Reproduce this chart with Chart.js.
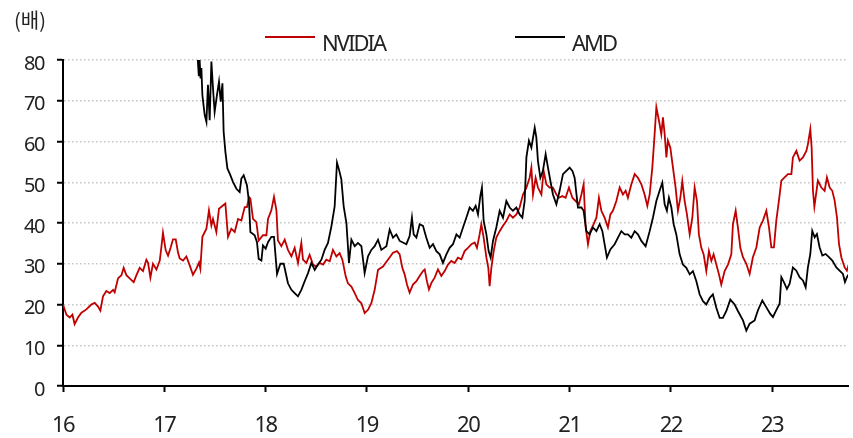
<!DOCTYPE html>
<html>
<head>
<meta charset="utf-8">
<script src="https://cdn.jsdelivr.net/npm/chart.js@4/dist/chart.umd.min.js"></script>
<style>
  html, body { margin: 0; padding: 0; background: #fff; }
  #wrap { width: 853px; height: 438px; }
</style>
</head>
<body>
<div id="wrap"><canvas id="chart" width="853" height="438"></canvas></div>
<script>
// P/E (배), NVIDIA vs AMD, x = year (16 = 2016)
var nvdaYears = [
  16.000,16.034,16.066,16.093,16.115,16.148,16.182,16.231,16.280,16.313,16.346,16.369,16.395,16.428,16.461,16.494,
  16.510,16.543,16.577,16.599,16.626,16.658,16.698,16.725,16.757,16.790,16.823,16.839,16.863,16.888,16.922,16.955,
  16.971,16.987,17.014,17.037,17.063,17.086,17.113,17.135,17.152,17.185,17.218,17.251,17.283,17.317,17.343,17.356,
  17.376,17.416,17.441,17.465,17.481,17.514,17.540,17.579,17.603,17.629,17.662,17.695,17.728,17.761,17.794,17.816,
  17.836,17.850,17.876,17.909,17.932,17.974,18.008,18.024,18.057,18.083,18.107,18.122,18.156,18.189,18.221,18.255,
  18.287,18.320,18.353,18.369,18.403,18.435,18.468,18.501,18.534,18.567,18.600,18.633,18.665,18.699,18.731,18.758,
  18.791,18.813,18.847,18.880,18.912,18.946,18.978,19.011,19.044,19.077,19.110,19.159,19.208,19.258,19.297,19.324,
  19.350,19.373,19.396,19.422,19.455,19.489,19.521,19.554,19.571,19.593,19.613,19.637,19.669,19.702,19.735,19.768,
  19.801,19.834,19.867,19.899,19.933,19.965,19.998,20.032,20.064,20.087,20.113,20.130,20.153,20.180,20.199,20.212,
  20.229,20.252,20.278,20.311,20.344,20.377,20.410,20.442,20.476,20.508,20.541,20.575,20.607,20.624,20.640,20.666,
  20.689,20.723,20.745,20.772,20.804,20.837,20.871,20.896,20.930,20.962,20.995,21.029,21.061,21.094,21.118,21.140,
  21.160,21.183,21.206,21.239,21.266,21.291,21.315,21.347,21.380,21.404,21.429,21.463,21.496,21.528,21.555,21.577,
  21.611,21.644,21.676,21.710,21.742,21.769,21.792,21.818,21.841,21.858,21.884,21.907,21.923,21.940,21.957,21.972,
  21.996,22.022,22.048,22.071,22.095,22.114,22.137,22.160,22.187,22.213,22.236,22.259,22.278,22.302,22.325,22.351,
  22.377,22.401,22.423,22.450,22.476,22.499,22.532,22.565,22.598,22.614,22.641,22.663,22.687,22.713,22.746,22.779,
  22.811,22.845,22.878,22.910,22.944,22.970,22.993,23.019,23.042,23.068,23.092,23.124,23.157,23.191,23.206,23.240,
  23.272,23.305,23.339,23.354,23.378,23.391,23.404,23.418,23.453,23.487,23.519,23.542,23.569,23.595,23.618,23.641,
  23.661,23.684,23.717,23.739,23.759
];
var nvdaPer = [
  20,17.5,16.8,17.5,15.2,16.8,18,18.8,20,20.4,19.5,18.5,22,23.3,22.8,23.6,
  23,26.4,27.2,29,27.2,26.4,25.5,27.2,29,28.2,31,30.3,26.6,30,28.6,30.7,
  34,37.6,33.3,32,34,36,36,32.8,31.3,30.8,31.8,29.6,27.3,28.8,30.3,28.8,
  36.6,38.6,43.1,39.4,41,37.8,43.5,44.3,44.8,36.6,38.6,37.8,41,40.6,43.9,43.9,
  46.4,46,41,40.2,35.7,37,37,41,43.1,46.4,43.1,35.7,34.3,35.9,33.4,31.8,
  33.9,30.2,35.1,31,30.2,32.2,29.8,29.3,30.2,29.8,31,30.6,33.4,31.8,32.6,31,
  26.9,25.2,24.4,22.8,21.1,20.3,17.9,18.7,20.3,23.6,28.5,29.3,31,32.7,33.1,32.3,
  29,27.4,24.9,22.9,24.9,25.7,27,28.2,28.6,25.7,23.7,25.3,26.6,28.6,27,28.2,
  29.8,30.7,30.2,31.5,31.1,33.1,33.9,34.8,35.2,33.9,37.2,39.7,36.4,31.5,29,24.5,
  29,33.1,36.4,38,39.3,40.5,42.1,41.3,42.1,43.8,47,48.7,51.1,53.6,47,51.1,
  48.7,47,52.8,49.5,48.7,48.7,47,46.2,46.6,46.2,48.7,46.2,45.4,44.6,47,49.5,
  38.9,34.8,38,39.7,41.3,46.2,43,41.3,38.9,42.1,43,45.4,48.7,47,47.9,46.2,
  49.5,52,51.1,49.5,47,44.2,47,53.6,61.8,68.4,65.1,61.8,65.9,61.8,56.1,60.2,
  58.5,53.6,48.7,43,46.2,50.3,45.4,42.1,37.2,41.3,48.7,45.4,37.2,33.9,32.3,28.2,
  33.1,30.7,32.3,29.8,27.4,24.9,28.2,29.8,32.3,39.7,43,38.9,33.9,31.6,30,27.5,
  31.6,34,38.9,40.6,43,38.9,34,34,40.6,45.5,50.4,51.2,52,52,56.1,57.7,
  55.3,56.1,57.7,59.3,63,58.5,47.9,44,50.4,48.7,47.9,51.2,48.7,47.9,45.5,41.4,
  34.9,31.6,29.1,28.3,30
];

var amdYears = [
  17.325,17.333,17.341,17.349,17.358,17.366,17.376,17.399,17.416,17.431,17.448,17.465,17.481,17.497,17.520,17.540,
  17.557,17.574,17.586,17.603,17.623,17.646,17.678,17.712,17.744,17.761,17.784,17.816,17.836,17.850,17.892,17.915,
  17.932,17.959,17.974,18.001,18.024,18.057,18.083,18.113,18.146,18.179,18.221,18.255,18.287,18.320,18.353,18.386,
  18.419,18.452,18.485,18.517,18.551,18.583,18.616,18.650,18.682,18.705,18.725,18.748,18.771,18.798,18.813,18.823,
  18.847,18.880,18.912,18.946,18.978,19.011,19.044,19.077,19.110,19.143,19.193,19.225,19.258,19.291,19.324,19.356,
  19.390,19.422,19.445,19.462,19.489,19.521,19.554,19.587,19.620,19.653,19.686,19.719,19.751,19.785,19.817,19.850,
  19.884,19.916,19.949,19.982,20.015,20.047,20.074,20.097,20.120,20.136,20.153,20.180,20.202,20.222,20.245,20.278,
  20.311,20.344,20.377,20.410,20.442,20.476,20.508,20.535,20.558,20.575,20.600,20.624,20.657,20.673,20.689,20.713,
  20.738,20.765,20.788,20.812,20.837,20.871,20.903,20.936,20.969,21.002,21.029,21.051,21.084,21.118,21.140,21.167,
  21.199,21.232,21.266,21.298,21.325,21.347,21.370,21.404,21.446,21.479,21.512,21.545,21.577,21.611,21.644,21.676,
  21.710,21.752,21.792,21.824,21.858,21.890,21.917,21.940,21.962,21.982,22.006,22.029,22.055,22.088,22.120,22.154,
  22.187,22.219,22.253,22.285,22.318,22.351,22.384,22.416,22.450,22.483,22.515,22.549,22.588,22.631,22.663,22.713,
  22.746,22.779,22.828,22.861,22.904,22.944,22.983,23.009,23.042,23.075,23.092,23.124,23.147,23.174,23.206,23.240,
  23.272,23.305,23.332,23.354,23.378,23.397,23.421,23.443,23.470,23.497,23.529,23.562,23.595,23.635,23.667,23.700,
  23.720,23.739,23.759
];
var amdPer = [
  88,79,76,80,75.5,78,71.4,66.5,64.8,73.9,65.2,79.6,73,67.3,71.4,74.7,
  69.8,74.3,62.4,57.5,53.4,52.1,50.1,48.4,47.6,50.9,51.7,49.3,45.2,37.8,37,35.3,
  31.2,30.8,34.5,33.7,35.3,36.6,36.6,27.5,30,30,25.2,23.6,22.8,22,23.6,25.7,
  27.7,30.2,28.5,29.8,31,33.4,35.1,39.2,44.1,54.8,53.1,50.7,44.1,40,34.3,30.2,
  35.9,34.3,35.1,34.3,27.7,31.8,33.4,34.3,35.9,33.4,34.3,38.4,36.4,37.2,35.6,35.2,
  34.8,36.8,41.3,37.2,36.4,39.7,39.3,36.4,33.9,34.8,33.1,32.3,30.2,32.3,33.9,34.8,
  37.2,36.4,38.9,41.3,43.8,43,44.2,42.1,46.6,48.7,40.5,37.2,33.1,31.5,35.6,38.9,
  43,41.3,45.4,43.8,43,43.8,42.1,41.3,45.4,56.1,60.2,58.5,63.4,61,55.2,51.1,
  52.8,56.9,53.6,50.3,47,44.6,47.9,52,52.8,53.6,52.8,51.1,43.8,43.8,43,38,
  37.2,38.9,38,39.7,38,34.8,31.5,33.5,34.8,36.4,38,37.2,37.2,36.4,38,37.2,
  35.6,34.3,38,41.3,45.4,47.9,49.9,44.6,43,46.2,43.8,39.7,37.2,32.3,29.8,29,
  27.4,28.2,25.7,22.5,20.8,20,21.6,22.5,19.2,16.7,16.7,18.4,21.2,20,18.4,16.1,
  13.6,15.3,16.1,18.6,21,19.3,17.7,16.9,18.6,20.2,26.7,25.1,23.8,25.1,29.1,28.3,
  26.7,25.9,24.2,29.1,32.4,38.1,36.5,37.3,34,32,32.4,31.6,30.8,29.1,28.3,27.5,
  25.5,26.7,27.5
];

var seriesNames = ['NVIDIA', 'AMD'];
var seriesColors = ['#c00000', '#000000'];
var unitLabel = '(배)';
var yearTicks = [16, 17, 18, 19, 20, 21, 22, 23];

var fontFamily = "'Noto Sans', 'Noto Sans CJK KR', sans-serif";

function toPoints(xs, ys) {
  var out = [];
  for (var i = 0; i < xs.length; i++) out.push({x: xs[i], y: ys[i]});
  return out;
}

// tighter letters for the axis labels, like the narrow font of the original
var tightText = {
  id: 'tightText',
  beforeDraw: function(chart) {
    chart.ctx.letterSpacing = '-1.5px';
  }
};

// legend + unit label drawn at fixed spots on top
var topLegend = {
  id: 'topLegend',
  afterDraw: function(chart) {
    var ctx = chart.ctx;
    ctx.save();
    ctx.letterSpacing = '0px';
    ctx.fillStyle = '#222';
    ctx.font = "20px 'Noto Sans CJK KR', sans-serif";
    ctx.textBaseline = 'middle';
    ctx.textAlign = 'left';
    ctx.fillText(unitLabel, 14, 20);

    var starts = [265, 515];
    ctx.font = '22px ' + fontFamily;
    ctx.letterSpacing = '-2px';
    for (var i = 0; i < seriesNames.length; i++) {
      ctx.strokeStyle = seriesColors[i];
      ctx.lineWidth = 2;
      ctx.beginPath();
      ctx.moveTo(starts[i], 37);
      ctx.lineTo(starts[i] + 50, 37);
      ctx.stroke();
      ctx.fillStyle = '#222';
      ctx.fillText(seriesNames[i], starts[i] + 57, 45);
    }
    ctx.restore();
  }
};

new Chart(document.getElementById('chart'), {
  type: 'line',
  data: {
    datasets: [{
      label: seriesNames[0],
      data: toPoints(nvdaYears, nvdaPer),
      borderColor: seriesColors[0],
      borderWidth: 1.8,
      pointRadius: 0,
      tension: 0,
      order: 1
    }, {
      label: seriesNames[1],
      data: toPoints(amdYears, amdPer),
      borderColor: seriesColors[1],
      borderWidth: 1.8,
      pointRadius: 0,
      tension: 0,
      order: 0
    }]
  },
  options: {
    responsive: false,
    animation: false,
    devicePixelRatio: 1,
    layout: { padding: { top: 60, right: 5, left: 0, bottom: 0 } },
    plugins: {
      legend: { display: false },
      tooltip: { enabled: false }
    },
    scales: {
      x: {
        type: 'linear',
        min: 16,
        max: 23.75,
        afterBuildTicks: function(scale) {
          scale.ticks = yearTicks.map(function(v) { return {value: v}; });
        },
        afterFit: function(scale) { scale.height = 52; },
        ticks: {
          stepSize: 1,
          autoSkip: false,
          maxRotation: 0,
          padding: 21,
          color: '#222',
          font: { family: fontFamily, size: 22 },
          callback: function(v) { return String(v); }
        },
        grid: {
          drawOnChartArea: false,
          tickLength: 6,
          tickColor: '#000',
          tickWidth: 2
        },
        border: { display: true, color: '#000', width: 2 }
      },
      y: {
        min: 0,
        max: 80,
        afterFit: function(scale) { scale.width = 63; },
        ticks: {
          stepSize: 10,
          padding: 13,
          labelOffset: 4,
          color: '#222',
          font: { family: fontFamily, size: 20 }
        },
        grid: {
          color: function(c) { return c.tick && c.tick.value === 0 ? 'rgba(0,0,0,0)' : '#c4c4c4'; },
          lineWidth: 1.5,
          tickLength: 6,
          tickColor: '#000',
          tickWidth: 2,
          tickBorderDash: []
        },
        border: { display: true, color: '#000', width: 2, dash: [1.5, 2.5] }
      }
    }
  },
  plugins: [tightText, topLegend]
});
</script>
</body>
</html>
